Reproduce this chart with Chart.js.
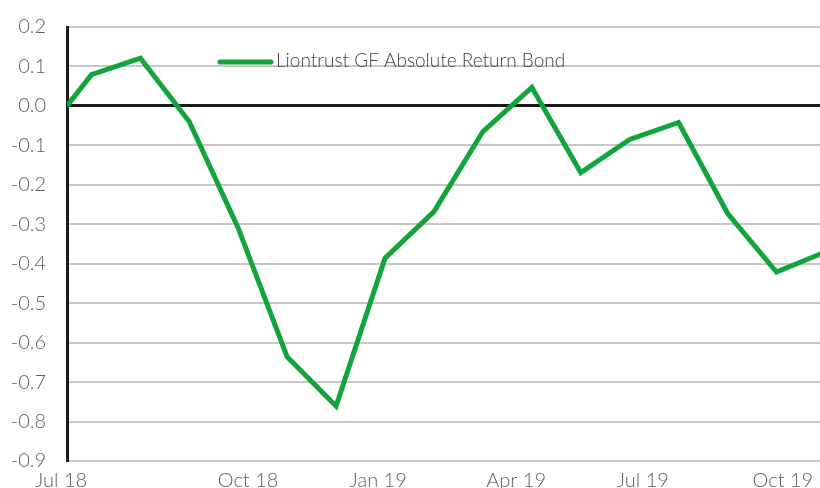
<!DOCTYPE html>
<html>
<head>
<meta charset="utf-8">
<script src="https://cdn.jsdelivr.net/npm/chart.js@4/dist/chart.umd.min.js"></script>
<style>
  html, body { margin: 0; padding: 0; background: #fff; }
  #wrap { width: 820px; height: 488px; }
</style>
</head>
<body>
<div id="wrap"><canvas id="perfChart"></canvas></div>
<script>
// month offsets from Jul 18 and cumulative return values
const seriesName = 'Liontrust GF Absolute Return Bond';
const monthPos = [0, 0.5, 1.5, 2.5, 3.5, 4.5, 5.5, 6.5, 7.5, 8.5, 9.5, 10.5, 11.5, 12.5, 13.5, 14.5, 15.5];
const returns = [0.0, 0.079, 0.121, -0.040, -0.310, -0.636, -0.761, -0.386, -0.268, -0.065, 0.047, -0.169, -0.085, -0.042, -0.272, -0.421, -0.370];
const xTickPos = [-0.12, 3.70, 6.36, 9.18, 11.77, 14.63];
const xTickLabels = ['Jul 18', 'Oct 18', 'Jan 19', 'Apr 19', 'Jul 19', 'Oct 19'];

const lineGreen = '#14a43c';
const textGrey = '#606060';
const fontFamily = 'Lato, "Open Sans", sans-serif';

// legend sits inside the plot, drawn by hand
const insideLegend = {
  id: 'insideLegend',
  afterDraw(chart) {
    const ctx = chart.ctx;
    ctx.save();
    ctx.strokeStyle = lineGreen;
    ctx.lineWidth = 5;
    ctx.lineCap = 'round';
    ctx.beginPath();
    ctx.moveTo(220, 62);
    ctx.lineTo(271, 62);
    ctx.stroke();
    ctx.fillStyle = '#454545';
    ctx.font = '300 19px ' + fontFamily;
    ctx.textBaseline = 'middle';
    ctx.fillText(seriesName, 276, 61);
    ctx.restore();
  }
};

new Chart(document.getElementById('perfChart'), {
  type: 'line',
  data: {
    datasets: [{
      label: seriesName,
      data: monthPos.map((m, i) => ({ x: m, y: returns[i] })),
      borderColor: lineGreen,
      backgroundColor: lineGreen,
      borderWidth: 5,
      pointRadius: 0,
      tension: 0,
      borderJoinStyle: 'miter'
    }]
  },
  options: {
    responsive: true,
    maintainAspectRatio: false,
    animation: false,
    layout: { padding: { top: 27, right: 0, left: 0, bottom: 0 } },
    plugins: {
      legend: { display: false },
      tooltip: { enabled: false }
    },
    scales: {
      x: {
        type: 'linear',
        min: 0,
        max: 15.39,
        grid: { display: false },
        border: { display: false },
        afterBuildTicks(scale) {
          scale.ticks = xTickPos.map(v => ({ value: v }));
        },
        afterFit(scale) {
          scale.height = 27;
          scale.paddingLeft = 0;
          scale.paddingRight = 0;
        },
        ticks: {
          autoSkip: false,
          maxRotation: 0,
          padding: 0,
          color: textGrey,
          font: { size: 20, family: fontFamily, weight: 300 },
          callback: (value, index) => xTickLabels[index]
        }
      },
      y: {
        min: -0.9,
        max: 0.2,
        afterFit(scale) {
          scale.width = 67;
          scale.paddingTop = 0;
          scale.paddingBottom = 0;
        },
        border: { display: true, color: '#1a1a1a', width: 3 },
        grid: {
          drawTicks: false,
          color: ctx => ctx.tick && Math.abs(ctx.tick.value) < 1e-9 ? '#1a1a1a' : '#c8c8c8',
          lineWidth: ctx => ctx.tick && Math.abs(ctx.tick.value) < 1e-9 ? 3 : 2
        },
        ticks: {
          stepSize: 0.1,
          padding: 21,
          color: textGrey,
          font: { size: 20, family: fontFamily, weight: 300 },
          callback: v => v.toFixed(1)
        }
      }
    }
  },
  plugins: [insideLegend]
});
</script>
</body>
</html>
